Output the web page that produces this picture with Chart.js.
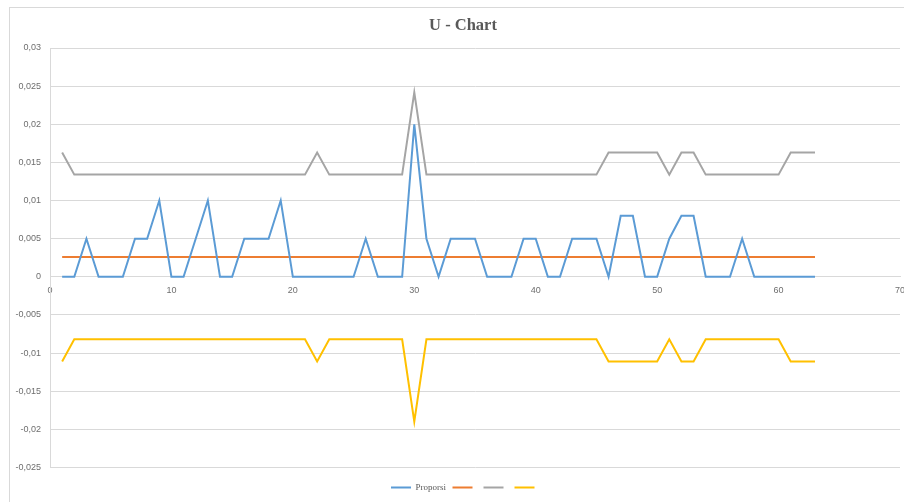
<!DOCTYPE html>
<html>
<head>
<meta charset="utf-8">
<title>U - Chart</title>
<script src="https://cdn.jsdelivr.net/npm/chart.js@4/dist/chart.umd.min.js"></script>
<style>
  html, body { margin: 0; padding: 0; background: #ffffff; }
  #wrap { width: 904px; height: 502px; }
</style>
</head>
<body>
<div id="wrap"><canvas id="chart" width="904" height="502"></canvas></div>
<script>
// Sample numbers (x axis)
const sampleNo = [
  1, 2, 3, 4, 5, 6, 7, 8, 9, 10,
  11, 12, 13, 14, 15, 16, 17, 18, 19, 20,
  21, 22, 23, 24, 25, 26, 27, 28, 29, 30,
  31, 32, 33, 34, 35, 36, 37, 38, 39, 40,
  41, 42, 43, 44, 45, 46, 47, 48, 49, 50,
  51, 52, 53, 54, 55, 56, 57, 58, 59, 60,
  61, 62, 63
];

// Defects per unit for each sample
const proporsi = [
  0, 0, 0.005, 0, 0, 0, 0.005, 0.005, 0.01, 0,
  0, 0.005, 0.01, 0, 0, 0.005, 0.005, 0.005, 0.01, 0,
  0, 0, 0, 0, 0, 0.005, 0, 0, 0, 0.02,
  0.005, 0, 0.005, 0.005, 0.005, 0, 0, 0, 0.005, 0.005,
  0, 0, 0.005, 0.005, 0.005, 0, 0.008, 0.008, 0, 0,
  0.005, 0.008, 0.008, 0, 0, 0, 0.005, 0, 0, 0,
  0, 0, 0
];

// Centre line (u-bar)
const centerLine = [
  0.0026, 0.0026, 0.0026, 0.0026, 0.0026, 0.0026, 0.0026, 0.0026, 0.0026, 0.0026,
  0.0026, 0.0026, 0.0026, 0.0026, 0.0026, 0.0026, 0.0026, 0.0026, 0.0026, 0.0026,
  0.0026, 0.0026, 0.0026, 0.0026, 0.0026, 0.0026, 0.0026, 0.0026, 0.0026, 0.0026,
  0.0026, 0.0026, 0.0026, 0.0026, 0.0026, 0.0026, 0.0026, 0.0026, 0.0026, 0.0026,
  0.0026, 0.0026, 0.0026, 0.0026, 0.0026, 0.0026, 0.0026, 0.0026, 0.0026, 0.0026,
  0.0026, 0.0026, 0.0026, 0.0026, 0.0026, 0.0026, 0.0026, 0.0026, 0.0026, 0.0026,
  0.0026, 0.0026, 0.0026
];

// Upper control limit
const ucl = [
  0.0163, 0.0134, 0.0134, 0.0134, 0.0134, 0.0134, 0.0134, 0.0134, 0.0134, 0.0134,
  0.0134, 0.0134, 0.0134, 0.0134, 0.0134, 0.0134, 0.0134, 0.0134, 0.0134, 0.0134,
  0.0134, 0.0163, 0.0134, 0.0134, 0.0134, 0.0134, 0.0134, 0.0134, 0.0134, 0.0242,
  0.0134, 0.0134, 0.0134, 0.0134, 0.0134, 0.0134, 0.0134, 0.0134, 0.0134, 0.0134,
  0.0134, 0.0134, 0.0134, 0.0134, 0.0134, 0.0163, 0.0163, 0.0163, 0.0163, 0.0163,
  0.0134, 0.0163, 0.0163, 0.0134, 0.0134, 0.0134, 0.0134, 0.0134, 0.0134, 0.0134,
  0.0163, 0.0163, 0.0163
];

// Lower control limit
const lcl = [
  -0.0111, -0.0082, -0.0082, -0.0082, -0.0082, -0.0082, -0.0082, -0.0082, -0.0082, -0.0082,
  -0.0082, -0.0082, -0.0082, -0.0082, -0.0082, -0.0082, -0.0082, -0.0082, -0.0082, -0.0082,
  -0.0082, -0.0111, -0.0082, -0.0082, -0.0082, -0.0082, -0.0082, -0.0082, -0.0082, -0.0190,
  -0.0082, -0.0082, -0.0082, -0.0082, -0.0082, -0.0082, -0.0082, -0.0082, -0.0082, -0.0082,
  -0.0082, -0.0082, -0.0082, -0.0082, -0.0082, -0.0111, -0.0111, -0.0111, -0.0111, -0.0111,
  -0.0082, -0.0111, -0.0111, -0.0082, -0.0082, -0.0082, -0.0082, -0.0082, -0.0082, -0.0082,
  -0.0111, -0.0111, -0.0111
];

// Axis tick settings
const xTicks = { min: 0, max: 70, step: 10 };
const yTicks = { min: -0.025, max: 0.03, step: 0.005 };

const toPoints = (vals) => sampleNo.map((x, i) => ({ x: x, y: vals[i] }));

const gridColor = '#d9d9d9';
const tickColor = '#6e6e6e';

// Outer chart frame
const framePlugin = {
  id: 'frame',
  beforeDraw(chart) {
    const ctx = chart.ctx;
    ctx.save();
    ctx.fillStyle = '#ffffff';
    ctx.fillRect(0, 0, chart.width, chart.height);
    ctx.strokeStyle = gridColor;
    ctx.lineWidth = 1;
    ctx.strokeRect(9.5, 7.5, chart.width + 10, chart.height + 10);
    ctx.restore();
  }
};

// Centre title and legend on the full frame width rather than the plot width
const centerOnFramePlugin = {
  id: 'centerOnFrame',
  afterLayout(chart) {
    if (chart.titleBlock) { chart.titleBlock.left += 8; chart.titleBlock.right += 8; }
    if (chart.legend) { chart.legend.left += 10; chart.legend.right += 10; }
  }
};

const lineDs = (label, vals, color) => ({
  label: label,
  data: toPoints(vals),
  borderColor: color,
  backgroundColor: color,
  borderWidth: 2,
  pointRadius: 0,
  pointHoverRadius: 0,
  tension: 0,
  fill: false
});

new Chart(document.getElementById('chart'), {
  type: 'line',
  data: {
    datasets: [
      lineDs('Proporsi', proporsi, '#5b9bd5'),
      lineDs('', centerLine, '#ed7d31'),
      lineDs('', ucl, '#a5a5a5'),
      lineDs('', lcl, '#ffc000')
    ]
  },
  options: {
    responsive: false,
    animation: false,
    layout: { padding: { left: 10, right: 4, top: 0, bottom: 0 } },
    plugins: {
      title: {
        display: true,
        text: 'U - Chart',
        color: '#595959',
        font: { family: '"Liberation Serif", "DejaVu Serif", serif', size: 16.5, weight: 'bold', lineHeight: 1.2 },
        padding: { top: 15.6, bottom: 12.6 }
      },
      legend: {
        display: true,
        position: 'bottom',
        title: { display: true, text: '', font: { size: 9, lineHeight: 1 }, padding: 0 },
        labels: {
          usePointStyle: true,
          pointStyle: 'line',
          pointStyleWidth: 20,
          boxHeight: 9,
          padding: 6.5,
          color: '#595959',
          font: { family: '"Liberation Serif", "DejaVu Serif", serif', size: 9 }
        }
      },
      tooltip: { enabled: false }
    },
    scales: {
      x: {
        type: 'linear',
        position: { y: 0 },
        min: xTicks.min,
        max: xTicks.max,
        afterFit(scale) { scale.paddingLeft = 0; scale.paddingRight = 0; },
        ticks: {
          stepSize: xTicks.step,
          color: tickColor,
          padding: 8,
          maxRotation: 0,
          font: { family: '"Liberation Sans", Arial, sans-serif', size: 9 }
        },
        grid: { display: false, drawTicks: false },
        border: { display: true, color: gridColor, width: 1 }
      },
      y: {
        type: 'linear',
        position: 'left',
        min: yTicks.min,
        max: yTicks.max,
        afterFit(scale) { scale.width = 40; },
        ticks: {
          stepSize: yTicks.step,
          color: tickColor,
          padding: 9,
          font: { family: '"Liberation Sans", Arial, sans-serif', size: 9 },
          callback: (v) => String(Number(Number(v).toFixed(4))).replace('.', ',')
        },
        grid: { color: gridColor, lineWidth: 1, drawTicks: false },
        border: { display: true, color: gridColor, width: 1 }
      }
    }
  },
  plugins: [framePlugin, centerOnFramePlugin]
});
</script>
</body>
</html>
